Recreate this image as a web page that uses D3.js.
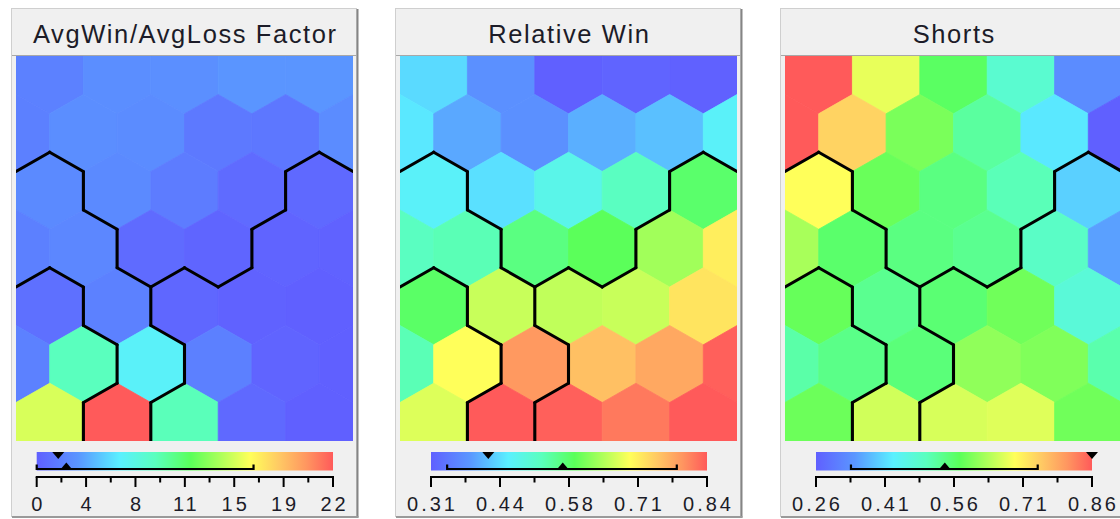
<!DOCTYPE html>
<html>
<head>
<meta charset="utf-8">
<script src="https://cdn.jsdelivr.net/npm/d3@7"></script>
<style>
  html, body { margin: 0; padding: 0; background: #ffffff; }
  svg { display: block; font-family: "Liberation Sans", Arial, sans-serif; }
</style>
</head>
<body>
<svg id="chart" width="1120" height="519"></svg>
<script>
// ---- Component planes of a hexagonal self-organizing map ----
const panelTitles = ["AvgWin/AvgLoss Factor", "Relative Win", "Shorts"];

// Node values, one inner array per map row (even rows: 5 nodes, odd rows: 6 nodes)
const avgWinLossValues = [
  [1.9, 2.6, 2.7, 3.0, 3.0],
  [1.8, 2.6, 2.5, 1.4, 1.3, 2.5],
  [2.4, 2.4, 1.6, 0.6, 0.5],
  [1.8, 2.2, 0.6, 0.3, 0.2, 0.1],
  [0.9, 1.9, 0.4, 0.1, 0.0],
  [1.9, 8.8, 6.4, 1.8, 0.2, 0.0],
  [14.8, 22.0, 8.9, 0.5, 0.0]
];
const relativeWinValues = [
  [0.440, 0.376, 0.310, 0.315, 0.312],
  [0.452, 0.399, 0.376, 0.405, 0.419, 0.464],
  [0.464, 0.445, 0.480, 0.519, 0.575],
  [0.519, 0.527, 0.561, 0.586, 0.631, 0.708],
  [0.578, 0.656, 0.651, 0.656, 0.718],
  [0.527, 0.692, 0.789, 0.752, 0.775, 0.835],
  [0.670, 0.840, 0.835, 0.815, 0.840]
];
const shortsValues = [
  [0.860, 0.675, 0.566, 0.480, 0.329],
  [0.860, 0.740, 0.595, 0.522, 0.421, 0.260],
  [0.692, 0.583, 0.544, 0.504, 0.398],
  [0.629, 0.560, 0.544, 0.533, 0.491, 0.353],
  [0.581, 0.533, 0.554, 0.588, 0.471],
  [0.516, 0.539, 0.550, 0.611, 0.600, 0.512],
  [0.585, 0.658, 0.663, 0.669, 0.588]
];

// Cluster membership of each node (same layout as the value arrays)
const clusterIds = [
  ["A", "A", "A", "A", "A"],
  ["A", "A", "A", "A", "A", "A"],
  ["B", "A", "A", "A", "D"],
  ["B", "B", "A", "A", "D", "D"],
  ["C", "B", "D", "D", "D"],
  ["C", "C", "B", "D", "D", "D"],
  ["C", "B", "D", "D", "D"]
];

// Colour-bar ranges, tick labels and statistics markers
const scaleMin = [0, 0.31, 0.26];
const scaleMax = [22, 0.84, 0.86];
const avgWinLossTicks = ["0", "4", "8", "11", "15", "19", "22"];
const relativeWinTicks = ["0.31", "0.44", "0.58", "0.71", "0.84"];
const shortsTicks = ["0.26", "0.41", "0.56", "0.71", "0.86"];
const selectedValue = [1.6, 0.42, 0.86];   // marker on top of the bar
const meanValue = [2.2, 0.563, 0.54];       // marker under the bar
const rangeLow = [0, 0.341, 0.336];
const rangeHigh = [16.1, 0.782, 0.742];

// Palette of the colour ramp (blue -> cyan -> green -> yellow -> red)
const rampStops = [0, 0.14, 0.28, 0.40, 0.52, 0.72, 0.82, 0.91, 1];
const rampColors = ["#6060ff", "#5a96ff", "#5af0ff", "#5affbe", "#5aff5a",
                    "#ffff5a", "#ffc864", "#ff9660", "#ff5a5a"];

const panelValues = [avgWinLossValues, relativeWinValues, shortsValues];
const panelTicks = [avgWinLossTicks, relativeWinTicks, shortsTicks];

// ---- layout ----
const mapLefts = [16, 400, 785];
const mapTop = 56, mapW = 337, mapH = 385;
const barTop = 452, barBottom = 470.5;
const axisY = 477;
const barInsets = [[20.7, 317], [31, 307], [31, 307]];

const svg = d3.select("#chart");
const defs = svg.append("defs");

// gradient for the colour bars
const grad = defs.append("linearGradient").attr("id", "ramp")
  .attr("x1", "0%").attr("x2", "100%").attr("y1", "0%").attr("y2", "0%");
rampStops.forEach((s, i) => {
  grad.append("stop").attr("offset", (s * 100) + "%").attr("stop-color", rampColors[i]);
});

panelTitles.forEach((title, p) => {
  const left = mapLefts[p];
  const g = svg.append("g");

  // window frame
  g.append("rect")
    .attr("x", left - 4.5).attr("y", 8.5)
    .attr("width", mapW + 8).attr("height", 508)
    .attr("fill", "#f0f0f0").attr("stroke", "#cfcfcf").attr("stroke-width", 1);
  g.append("line")
    .attr("x1", left + mapW + 4.5).attr("x2", left + mapW + 4.5)
    .attr("y1", 9).attr("y2", 517.5)
    .attr("stroke", "#858585").attr("stroke-width", 2);
  g.append("line")
    .attr("x1", left - 4).attr("x2", left + mapW + 5.5)
    .attr("y1", 517).attr("y2", 517)
    .attr("stroke", "#9a9a9a").attr("stroke-width", 2);
  g.append("line")
    .attr("x1", left - 4).attr("x2", left + mapW + 4)
    .attr("y1", mapTop - 0.5).attr("y2", mapTop - 0.5)
    .attr("stroke", "#a8a8a8").attr("stroke-width", 1);

  // title
  g.append("text")
    .attr("x", left + mapW / 2 + 0.8).attr("y", 43)
    .attr("text-anchor", "middle")
    .attr("font-size", 25.5).attr("letter-spacing", 1.6)
    .attr("fill", "#1c1c28")
    .text(title);

  // ---- hexagon map ----
  const x = d3.scaleLinear().domain([0, 5]).range([left, left + mapW]);
  const y = d3.scaleLinear().domain([0, 10]).range([mapTop, mapTop + mapH]);
  const color = d3.scaleLinear()
    .domain(rampStops.map(s => scaleMin[p] + s * (scaleMax[p] - scaleMin[p])))
    .range(rampColors)
    .interpolate(d3.interpolateRgb)
    .clamp(true);

  const clipId = "clip" + p;
  defs.append("clipPath").attr("id", clipId)
    .append("rect").attr("x", left).attr("y", mapTop)
    .attr("width", Math.min(mapW, 1120 - left)).attr("height", mapH);

  const nodes = [];
  panelValues[p].forEach((row, r) => {
    row.forEach((v, c) => {
      nodes.push({
        r, c, v,
        cx: (r % 2 === 0 ? 0.5 + c : c),
        cy: 0.5 + 1.5 * r,
        cluster: clusterIds[r][c]
      });
    });
  });

  const hexPath = d => {
    const pts = [
      [d.cx, d.cy - 1], [d.cx + 0.5, d.cy - 0.5], [d.cx + 0.5, d.cy + 0.5],
      [d.cx, d.cy + 1], [d.cx - 0.5, d.cy + 0.5], [d.cx - 0.5, d.cy - 0.5]
    ];
    return "M" + pts.map(q => x(q[0]) + "," + y(q[1])).join("L") + "Z";
  };

  const mapG = g.append("g").attr("clip-path", `url(#${clipId})`);
  mapG.selectAll("path.hex").data(nodes).join("path")
    .attr("class", "hex")
    .attr("d", hexPath)
    .attr("fill", d => color(d.v))
    .attr("stroke", d => color(d.v))
    .attr("stroke-width", 0.8);

  // cluster boundaries: shared edges between neighbours of different clusters
  const byPos = new Map(nodes.map(d => [d.cx + "|" + d.cy, d]));
  const dirs = [
    { dx: 1, dy: 0, e: [[0.5, -0.5], [0.5, 0.5]] },
    { dx: 0.5, dy: 1.5, e: [[0, 1], [0.5, 0.5]] },
    { dx: -0.5, dy: 1.5, e: [[0, 1], [-0.5, 0.5]] }
  ];
  const edges = [];
  nodes.forEach(d => {
    dirs.forEach(k => {
      const n = byPos.get((d.cx + k.dx) + "|" + (d.cy + k.dy));
      if (n && n.cluster !== d.cluster) {
        edges.push([[d.cx + k.e[0][0], d.cy + k.e[0][1]], [d.cx + k.e[1][0], d.cy + k.e[1][1]]]);
      }
    });
  });
  mapG.selectAll("line.border").data(edges).join("line")
    .attr("class", "border")
    .attr("x1", e => x(e[0][0])).attr("y1", e => y(e[0][1]))
    .attr("x2", e => x(e[1][0])).attr("y2", e => y(e[1][1]))
    .attr("stroke", "#000").attr("stroke-width", 3.1)
    .attr("stroke-linecap", "round");

  // ---- colour bar ----
  const bx0 = left + barInsets[p][0], bx1 = left + barInsets[p][1];
  const bar = d3.scaleLinear().domain([scaleMin[p], scaleMax[p]]).range([bx0, bx1]);

  g.append("rect")
    .attr("x", bx0).attr("y", barTop)
    .attr("width", bx1 - bx0).attr("height", barBottom - barTop)
    .attr("fill", "url(#ramp)");

  // spread line with end ticks
  const lx0 = bar(rangeLow[p]), lx1 = bar(rangeHigh[p]);
  g.append("path")
    .attr("d", `M${lx0},${barBottom - 6}V${barBottom - 1.5}H${lx1}V${barBottom - 6}`)
    .attr("fill", "none").attr("stroke", "#000").attr("stroke-width", 2.2);

  // mean marker (upward triangle) and selected marker (downward triangle)
  const mx = bar(meanValue[p]);
  g.append("path")
    .attr("d", `M${mx - 6},${barBottom - 1}L${mx + 6},${barBottom - 1}L${mx},${barBottom - 8}Z`)
    .attr("fill", "#000");
  const sx = bar(selectedValue[p]);
  g.append("path")
    .attr("d", `M${sx - 6},${barTop}L${sx + 6},${barTop}L${sx},${barTop + 7}Z`)
    .attr("fill", "#000");

  // axis with major ticks and minor ticks between them
  const labels = panelTicks[p];
  const n = labels.length;
  const majorVals = labels.map((_, i) => scaleMin[p] + i * (scaleMax[p] - scaleMin[p]) / (n - 1));
  const minorVals = d3.range(n - 1).map(i => (majorVals[i] + majorVals[i + 1]) / 2);

  g.append("line")
    .attr("x1", bar(scaleMin[p])).attr("x2", bar(scaleMax[p]))
    .attr("y1", axisY).attr("y2", axisY)
    .attr("stroke", "#000").attr("stroke-width", 2)
    .attr("stroke-linecap", "square");
  g.selectAll("line.major").data(majorVals).join("line")
    .attr("class", "major")
    .attr("x1", d => bar(d)).attr("x2", d => bar(d))
    .attr("y1", axisY).attr("y2", axisY + 10)
    .attr("stroke", "#000").attr("stroke-width", 2);
  g.selectAll("line.minor").data(minorVals).join("line")
    .attr("class", "minor")
    .attr("x1", d => bar(d)).attr("x2", d => bar(d))
    .attr("y1", axisY).attr("y2", axisY + 5.5)
    .attr("stroke", "#000").attr("stroke-width", 2);
  g.selectAll("text.tick").data(majorVals).join("text")
    .attr("class", "tick")
    .attr("x", d => bar(d) + 1.5).attr("y", 511)
    .attr("text-anchor", "middle")
    .attr("font-size", 20).attr("letter-spacing", 3)
    .attr("fill", "#1c1c28")
    .text((d, i) => labels[i]);
});
</script>
</body>
</html>
